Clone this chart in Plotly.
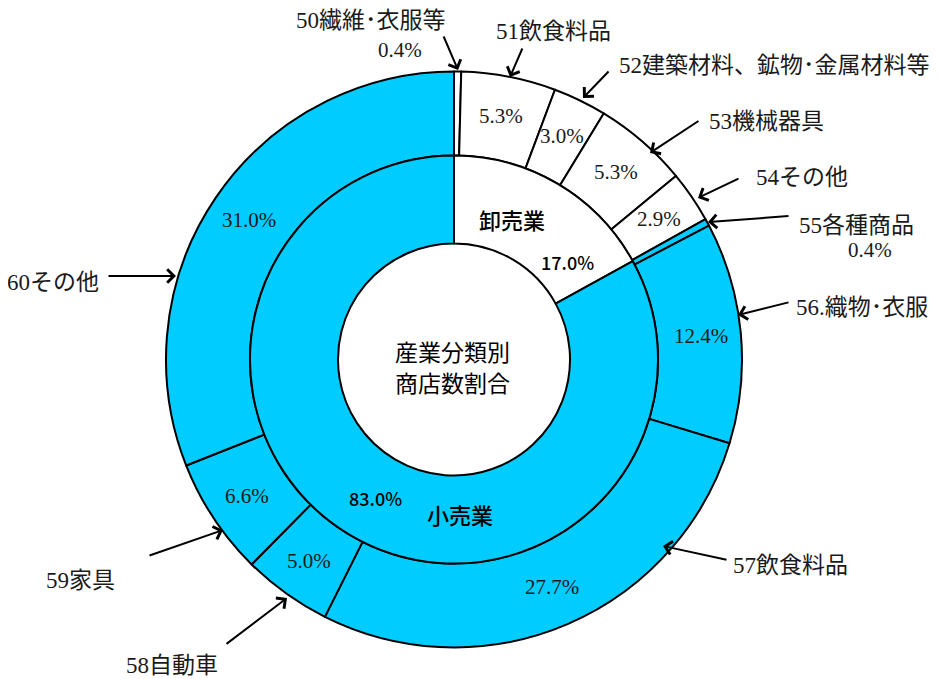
import math
import plotly.graph_objects as go

# ---- data ----
inner_labels = ["卸売業", "小売業"]
inner_values = [17.0, 83.0]

outer_labels = ["50繊維･衣服等", "51飲食料品", "52建築材料、鉱物･金属材料等", "53機械器具",
                "54その他", "55各種商品", "56.織物･衣服", "57飲食料品", "58自動車", "59家具", "60その他"]
outer_values = [0.4, 5.3, 3.0, 5.3, 2.9, 0.4, 12.4, 27.7, 5.0, 6.6, 31.0]
outer_group = ["卸売業"] * 5 + ["小売業"] * 6

center_title = ["産業分類別", "商店数割合"]

CYAN = "#00CCFF"
W, H = 938, 679
OFF = 8  # page body margin offset
cx, cy = 454, 359.5
R_out, R_mid, R_in = 288, 204, 116

def dom(r):
    x0, y0 = cx - OFF, cy - OFF
    return dict(x=[(x0 - r) / W, (x0 + r) / W],
                y=[(H - y0 - r) / H, (H - y0 + r) / H])

serif = "Liberation Serif, Noto Sans CJK JP, serif"
sans = "Noto Sans CJK JP, Noto Sans, sans-serif"

outer_colors = ["white" if g == "卸売業" else CYAN for g in outer_group]

fig = go.Figure()
fig.add_trace(go.Pie(
    values=outer_values, labels=outer_labels,
    textinfo="none",
    sort=False, direction="clockwise", rotation=0,
    hole=R_mid / R_out, domain=dom(R_out),
    marker=dict(colors=outer_colors, line=dict(color="black", width=2)),
    showlegend=False,
))
fig.add_trace(go.Pie(
    values=inner_values, labels=inner_labels,
    textinfo="none",
    sort=False, direction="clockwise", rotation=0,
    hole=R_in / R_mid, domain=dom(R_mid),
    marker=dict(colors=["white", CYAN], line=dict(color="black", width=2)),
    showlegend=False,
))

def px(x, y):
    return (x - OFF) / W, (H - (y - OFF)) / H

ann = []
def text(t, x, y, size=23, family=serif, color="#1a1a1a", weight="normal"):
    xx, yy = px(x, y)
    ann.append(dict(text=t, x=xx, y=yy, xref="paper", yref="paper", showarrow=False,
                    xanchor="center", yanchor="middle",
                    font=dict(family=family, size=size, color=color, weight=weight)))

def arrow(tail, head):
    hx, hy = px(*head)
    ann.append(dict(text="", x=hx, y=hy, xref="paper", yref="paper", showarrow=True,
                    ax=tail[0] - head[0], ay=tail[1] - head[1],
                    arrowhead=4, arrowsize=1.3, arrowwidth=2, arrowcolor="black"))

# percentages inside outer ring, placed at each slice's middle angle
total = sum(outer_values)
r_text = (R_mid + R_out) / 2 + 2
cum = 0.0
for v in outer_values:
    mid = (cum + v / 2) / total * 2 * math.pi
    cum += v
    if v < 1:
        continue
    text(f"{v:.1f}%", cx + r_text * math.sin(mid), cy - r_text * math.cos(mid), size=21)

# outer labels
label_pos = [(371, 20), (553, 32), (774, 65), (766, 122), (802, 177), (856, 226),
             (862, 307), (790, 565), (172, 665), (80, 580), (53, 282)]
arrows = [((443, 35), (458, 70)), ((523, 47), (510, 77)), ((610, 70), (583, 98)),
          ((700, 120), (650, 153)), ((740, 178), (698, 198)), ((790, 216), (708, 222)),
          ((790, 302), (738, 315)), ((728, 560), (663, 546)), ((225, 645), (287, 598)),
          ((148, 556), (223, 530)), ((107, 276), (176, 276))]
for lab, (x, y) in zip(outer_labels, label_pos):
    text(lab, x, y)
for t, h in arrows:
    arrow(t, h)
# small slices shown outside
text(f"{outer_values[0]:.1f}%", 400, 50, size=21)
text(f"{outer_values[5]:.1f}%", 870, 250, size=21)

# inner ring labels
text(inner_labels[0], 512, 219, size=22, family=sans, color="black", weight=500)
text(f"{inner_values[0]:.1f}%", 567, 262, size=18, family=sans, color="black", weight=500)
text(inner_labels[1], 460, 514, size=22, family=sans, color="black", weight=500)
text(f"{inner_values[1]:.1f}%", 375, 498, size=18, family=sans, color="black", weight=500)
text(center_title[0], 452, 351, size=23, family=sans, color="black")
text(center_title[1], 452, 382, size=23, family=sans, color="black")

fig.update_layout(
    width=W, height=H, margin=dict(l=0, r=0, t=0, b=0),
    paper_bgcolor="white", plot_bgcolor="white",
    annotations=ann,
)
fig.write_html("out.html")
